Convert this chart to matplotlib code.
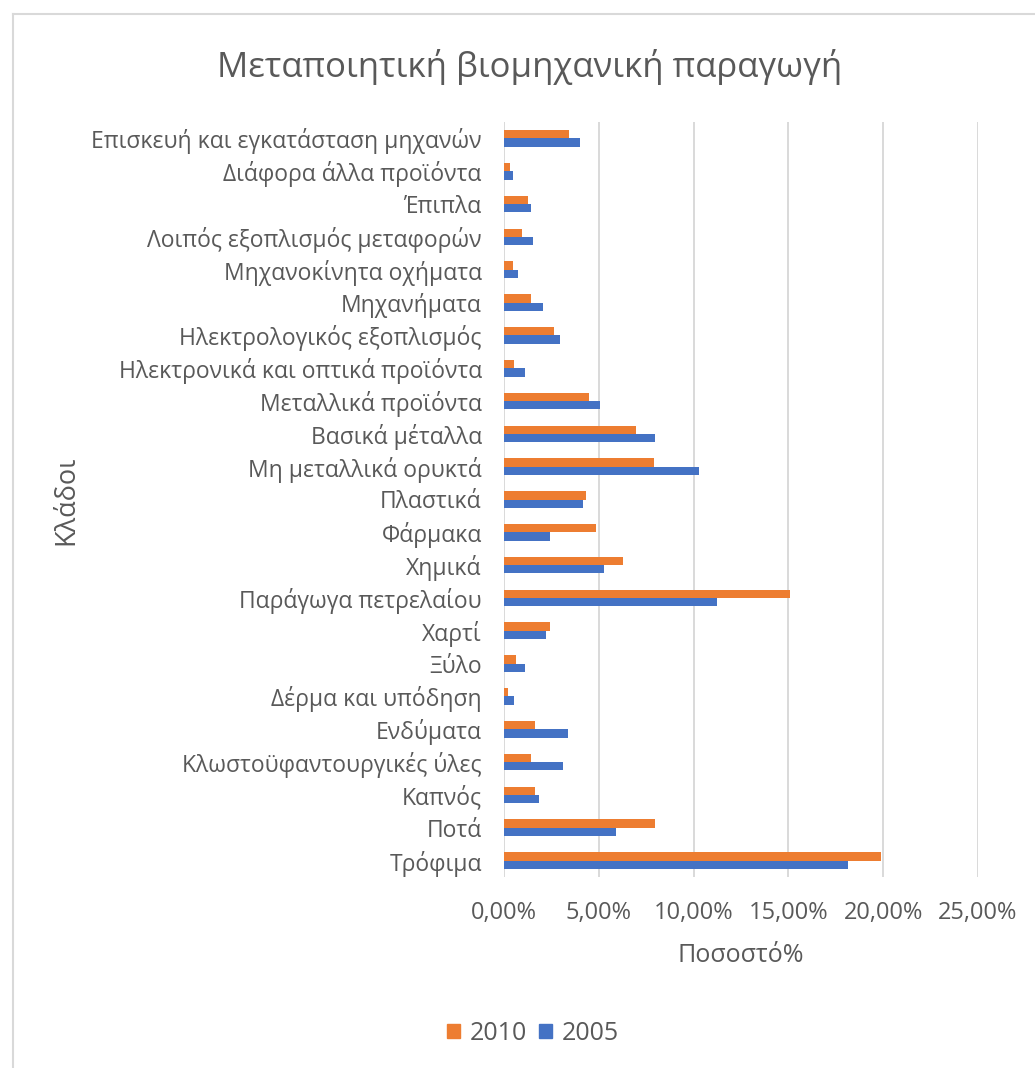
import matplotlib
matplotlib.use("Agg")
from matplotlib import pyplot as plt
from matplotlib.lines import Line2D
from matplotlib.patches import Patch
import numpy as np

plt.rcParams['font.family'] = ['Open Sans', 'DejaVu Sans']

# κλάδοι από κάτω προς τα πάνω
klados = [
    "Τρόφιμα", "Ποτά", "Καπνός", "Κλωστοϋφαντουργικές ύλες", "Ενδύματα",
    "Δέρμα και υπόδηση", "Ξύλο", "Χαρτί", "Παράγωγα πετρελαίου", "Χημικά",
    "Φάρμακα", "Πλαστικά", "Μη μεταλλικά ορυκτά", "Βασικά μέταλλα",
    "Μεταλλικά προϊόντα", "Ηλεκτρονικά και οπτικά προϊόντα",
    "Ηλεκτρολογικός εξοπλισμός", "Μηχανήματα", "Μηχανοκίνητα οχήματα",
    "Λοιπός εξοπλισμός μεταφορών", "Έπιπλα", "Διάφορα άλλα προϊόντα",
    "Επισκευή και εγκατάσταση μηχανών",
]
y2010 = [19.91, 7.96, 1.63, 1.40, 1.63, 0.23, 0.61, 2.44, 15.10, 6.28,
         4.84, 4.33, 7.89, 6.95, 4.47, 0.54, 2.65, 1.40, 0.46, 0.96,
         1.26, 0.32, 3.44]
y2005 = [18.16, 5.93, 1.86, 3.09, 3.39, 0.54, 1.12, 2.21, 11.23, 5.28,
         2.44, 4.18, 10.28, 7.96, 5.05, 1.12, 2.95, 2.07, 0.75, 1.54,
         1.40, 0.46, 4.02]
xticks = [0, 5, 10, 15, 20, 25]

ORANGE = "#ED7D31"
BLUE = "#4472C4"
GREY = "#595959"

W, H = 1035, 1068
fig = plt.figure(figsize=(W / 100, H / 100), dpi=100)
ax = fig.add_axes([504 / W, 1 - 877 / H, 474 / W, 755 / H])

pos = np.arange(len(klados))
h = 0.253
ax.barh(pos + h / 2, y2010, height=h, color=ORANGE, label="2010", zorder=3)
ax.barh(pos - h / 2, y2005, height=h, color=BLUE, label="2005", zorder=3)

ax.set_xlim(0, 25)
ax.set_ylim(-0.5, len(klados) - 0.5)
ax.set_xticks(xticks)
ax.set_xticklabels([f"{v:.2f}%".replace(".", ",") for v in xticks])
ax.set_yticks(pos)
ax.set_yticklabels(klados)
ax.xaxis.grid(True, color="#d9d9d9", linewidth=1.4, zorder=0)
for s in ax.spines.values():
    s.set_visible(False)
ax.tick_params(axis="both", length=0, labelcolor=GREY)
ax.tick_params(axis="y", labelsize=16.5, pad=16)
ax.tick_params(axis="x", labelsize=17, pad=17)

fig.text(741 / W, 1 - 955 / H, "Ποσοστό%", fontsize=18, color=GREY,
         ha="center", va="center")
fig.text(66 / W, 1 - 500 / H, "Κλάδοι", rotation=90, fontsize=19.5,
         color=GREY, ha="center", va="center")
fig.text(530 / W, 1 - 67 / H, "Μεταποιητική βιομηχανική παραγωγή",
         fontsize=25, color=GREY, ha="center", va="center")

handles = [Patch(color=ORANGE, label="2010"), Patch(color=BLUE, label="2005")]
fig.legend(handles=handles, loc="center", bbox_to_anchor=(533 / W, 1 - 1033 / H),
           ncol=2, frameon=False, fontsize=18, labelcolor=GREY,
           handlelength=0.5, handleheight=0.5, handletextpad=0.4,
           columnspacing=0.5)

# πλαίσιο γραφήματος
fig.add_artist(Line2D([12.5 / W, 1], [1 - 14 / H, 1 - 14 / H],
                      color="#d9d9d9", linewidth=1.5, transform=fig.transFigure))
fig.add_artist(Line2D([12.5 / W, 12.5 / W], [0, 1 - 14 / H],
                      color="#d9d9d9", linewidth=1.5, transform=fig.transFigure))

fig.savefig("out.png", dpi=100)
